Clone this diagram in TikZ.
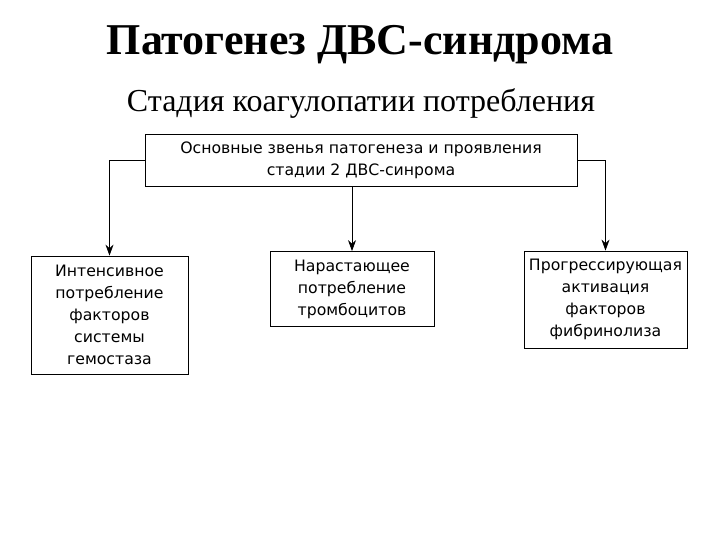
\documentclass[tikz,border=0pt]{standalone}
\usepackage{fontspec}
\setmainfont{Liberation Serif}
\newfontfamily\boxfont{DejaVu Sans}
\usetikzlibrary{arrows.meta}
\begin{document}
\begin{tikzpicture}[x=1pt,y=-1pt,
  bx/.style={draw,line width=0.8pt,align=center,inner sep=0pt,font=\boxfont\fontsize{15.7}{22}\selectfont},
  arr/.style={line width=0.8pt,-{Stealth[length=11pt,width=8pt]}}]
\useasboundingbox[fill=white] (0,0) rectangle (720,540);
\node[font=\bfseries\fontsize{44}{48}\selectfont] (t) at (360,45) {Патогенез ДВС-синдрома};
\node[font=\fontsize{32}{36}\selectfont] (s) at (361,104) {Стадия коагулопатии потребления};
\node[bx,minimum width=432,minimum height=52] (top) at (361,160) {Основные звенья патогенеза и проявления\\стадии 2 ДВС-синрома};
\node[bx,minimum width=157,minimum height=118] (l) at (109.5,315) {Интенсивное\\потребление\\факторов\\системы\\гемостаза};
\node[bx,minimum width=164,minimum height=75] (m) at (352,289) {Нарастающее\\потребление\\тромбоцитов};
\node[bx,minimum width=163,minimum height=97] (r) at (605.5,299.5) {Прогрессирующая\\активация\\факторов\\фибринолиза};
\draw[arr] (top.west) -| (l.north);
\draw[arr] (top.south -| m.north) -- (m.north);
\draw[arr] (top.east) -| (r.north);
\end{tikzpicture}
\end{document}
